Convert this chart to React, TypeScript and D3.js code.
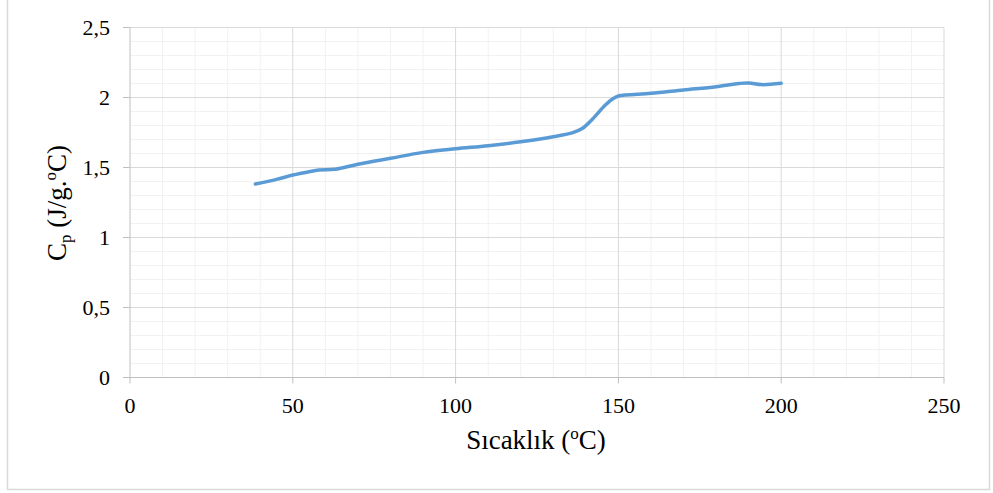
import React, { useEffect, useRef } from "react";
import * as d3 from "d3";

// temperature (°C) vs Cp (J/g.°C)
const temps = [38.5, 45, 50, 55, 58, 63, 70, 80, 90, 100, 110, 120, 130, 136, 139, 142, 146, 148.5, 150, 160, 170, 180, 187, 190, 194, 200];
const cpValues = [1.382, 1.415, 1.446, 1.47, 1.482, 1.487, 1.523, 1.566, 1.608, 1.634, 1.656, 1.684, 1.72, 1.749, 1.78, 1.845, 1.946, 1.994, 2.011, 2.03, 2.054, 2.077, 2.1, 2.104, 2.092, 2.101];
const xTicks = [0, 50, 100, 150, 200, 250];
const yTicks = [0, 0.5, 1, 1.5, 2, 2.5];

const FONT = "'Liberation Serif', 'DejaVu Serif', serif";

const App = () => {
  const svgRef = useRef<SVGSVGElement>(null);

  useEffect(() => {
    const svg = d3.select(svgRef.current);
    svg.selectAll("*").remove();
    const margin = { top: 27.5, left: 130, right: 49, bottom: 115.5 };
    const width = 993 - margin.left - margin.right;
    const height = 493 - margin.top - margin.bottom;

    const x = d3.scaleLinear().domain([0, 250]).range([0, width]);
    const y = d3.scaleLinear().domain([0, 2.5]).range([height, 0]);

    svg.append("rect")
      .attr("x", 7.5).attr("y", -5).attr("width", 982).attr("height", 494.5)
      .attr("fill", "white").attr("stroke", "#d9d9d9").attr("stroke-width", 1.5);

    const g = svg.append("g").attr("transform", "translate(" + margin.left + "," + margin.top + ")");

    // minor grid
    g.selectAll(".minor-x").data(d3.range(10, 250, 10).filter(v => v % 50 !== 0)).join("line")
      .attr("x1", d => x(d)).attr("x2", d => x(d)).attr("y1", 0).attr("y2", height)
      .attr("stroke", "#f2f2f2").attr("stroke-width", 1);
    g.selectAll(".minor-y").data(d3.range(1, 25).filter(v => v % 5 !== 0).map(v => v / 10)).join("line")
      .attr("x1", 0).attr("x2", width).attr("y1", d => y(d)).attr("y2", d => y(d))
      .attr("stroke", "#f2f2f2").attr("stroke-width", 1);

    // major grid
    g.selectAll(".major-x").data(xTicks.slice(1)).join("line")
      .attr("x1", d => x(d)).attr("x2", d => x(d)).attr("y1", 0).attr("y2", height)
      .attr("stroke", "#d9d9d9").attr("stroke-width", 1);
    g.selectAll(".major-y").data(yTicks.slice(1)).join("line")
      .attr("x1", 0).attr("x2", width).attr("y1", d => y(d)).attr("y2", d => y(d))
      .attr("stroke", "#d9d9d9").attr("stroke-width", 1);

    // axes
    g.append("line").attr("x1", 0).attr("x2", 0).attr("y1", 0).attr("y2", height)
      .attr("stroke", "#bfbfbf").attr("stroke-width", 1);
    g.append("line").attr("x1", 0).attr("x2", width).attr("y1", height).attr("y2", height)
      .attr("stroke", "#bfbfbf").attr("stroke-width", 1);
    g.selectAll(".ytick").data(yTicks).join("line")
      .attr("x1", -7).attr("x2", 0).attr("y1", d => y(d)).attr("y2", d => y(d))
      .attr("stroke", "#bfbfbf");
    g.selectAll(".xtick").data(xTicks).join("line")
      .attr("x1", d => x(d)).attr("x2", d => x(d)).attr("y1", height).attr("y2", height + 6)
      .attr("stroke", "#bfbfbf");

    const fmt = (v: number) => String(v).replace(".", ",");
    g.selectAll(".ylab").data(yTicks).join("text")
      .attr("x", -20).attr("y", d => y(d)).attr("dy", "0.35em")
      .attr("text-anchor", "end").style("font-family", FONT).attr("font-size", 22)
      .text(d => fmt(d));
    g.selectAll(".xlab").data(xTicks).join("text")
      .attr("x", d => x(d)).attr("y", height + 35)
      .attr("text-anchor", "middle").style("font-family", FONT).attr("font-size", 22)
      .text(d => d);

    // line
    const line = d3.line<number>()
      .x((d, i) => x(temps[i]))
      .y(d => y(d))
      .curve(d3.curveCatmullRom.alpha(0.5));
    g.append("path").datum(cpValues).attr("d", line)
      .attr("fill", "none").attr("stroke", "#5b9bd5").attr("stroke-width", 3.5)
      .attr("stroke-linecap", "round").attr("stroke-linejoin", "round");

    // titles
    const xt = svg.append("text").attr("x", 536).attr("y", 449)
      .attr("text-anchor", "middle").style("font-family", FONT).attr("font-size", 27);
    xt.append("tspan").text("Sıcaklık (");
    xt.append("tspan").attr("font-size", 17).attr("dy", -10).text("o");
    xt.append("tspan").attr("dy", 10).text("C)");

    const yt = svg.append("text").attr("transform", "translate(66,203) rotate(-90)")
      .attr("text-anchor", "middle").style("font-family", FONT).attr("font-size", 27);
    yt.append("tspan").text("C");
    yt.append("tspan").attr("font-size", 17).attr("dy", 5).text("p");
    yt.append("tspan").attr("dy", -5).text(" (J/g.");
    yt.append("tspan").attr("font-size", 17).attr("dy", -10).text("o");
    yt.append("tspan").attr("dy", 10).text("C)");
  }, []);

  return (
    <svg ref={svgRef} width={993} height={493} style={{ position: "absolute", left: 0, top: 0 }} />
  );
};

export default App;
